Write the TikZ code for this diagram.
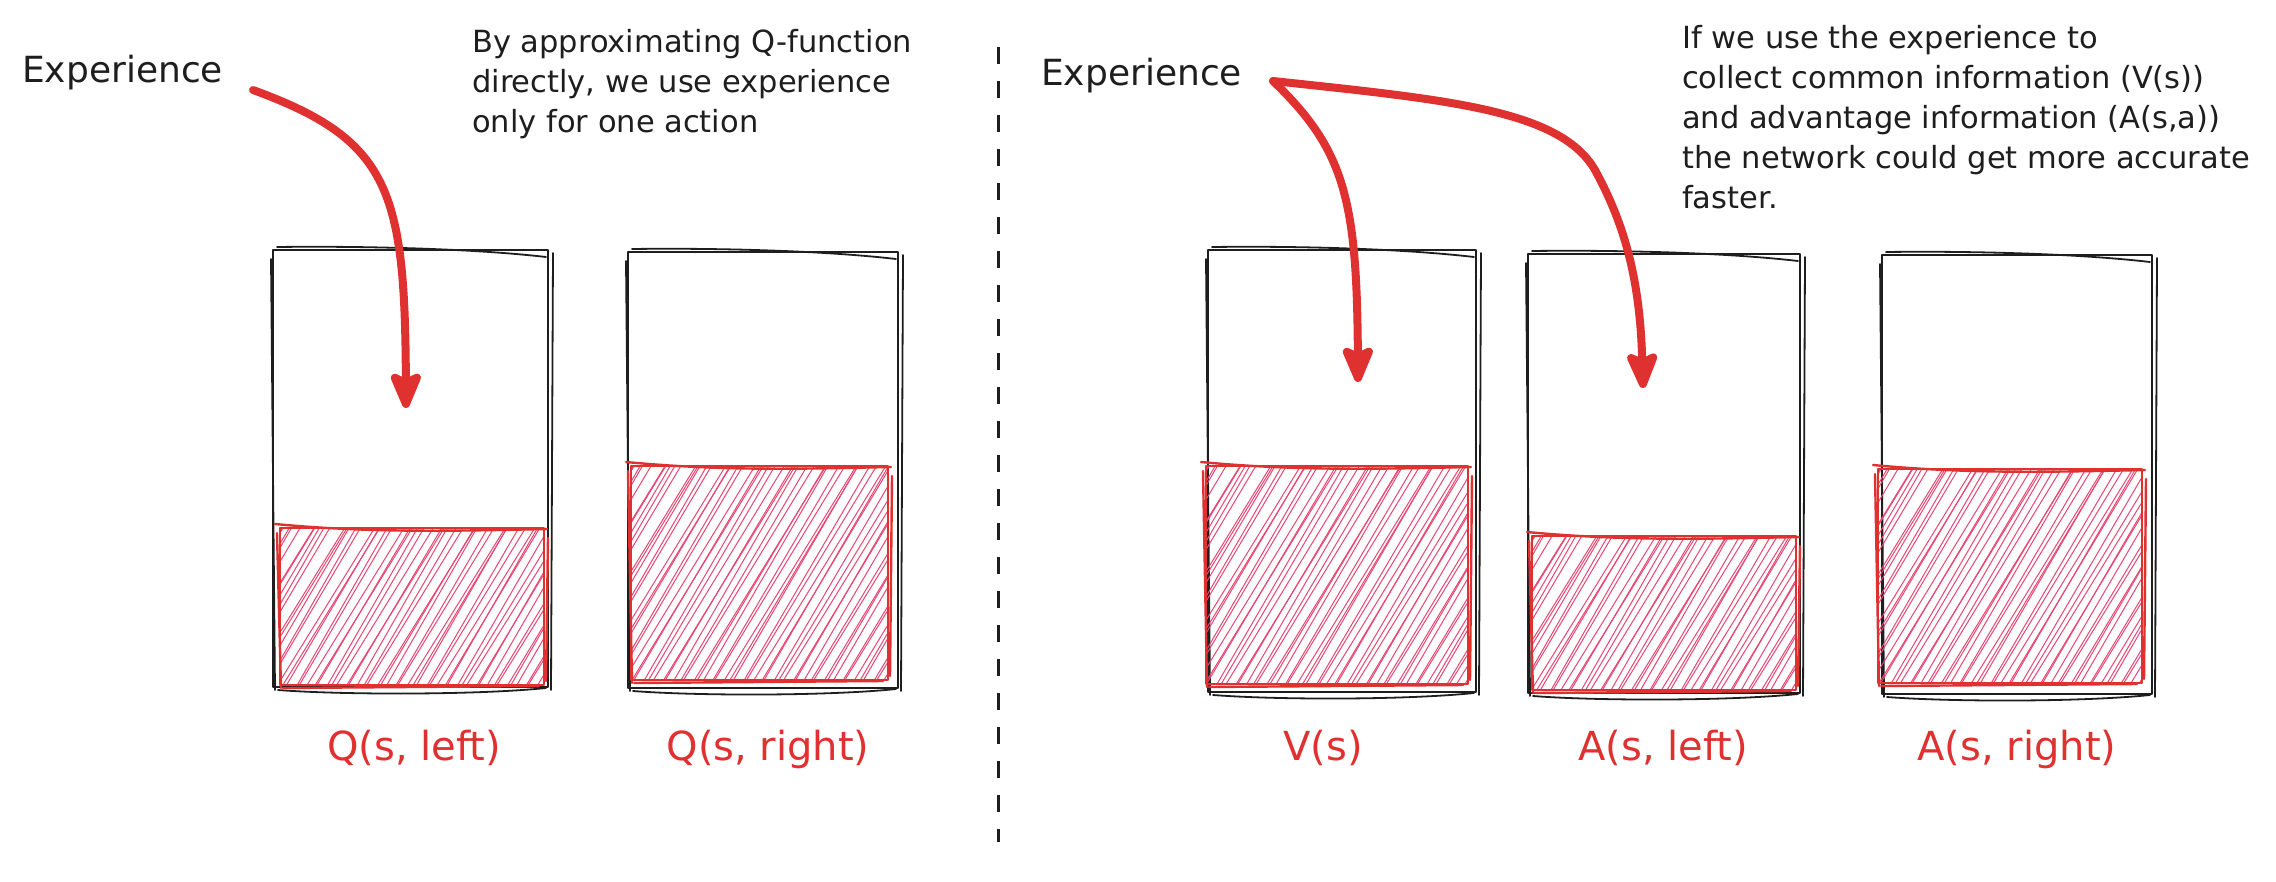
\documentclass[tikz,border=0pt]{standalone}
\usepackage{fontspec}
\setmainfont{DejaVu Sans}
\usetikzlibrary{arrows.meta}
\definecolor{exred}{RGB}{224,49,49}
\definecolor{exhatch}{RGB}{232,70,115}
\definecolor{exink}{RGB}{30,30,30}
\tikzset{
  boxline/.style={draw=exink,line width=1.8pt,line cap=round,line join=round},
  fillline/.style={draw=exred,line width=2.4pt,line cap=round,line join=round},
  hatchline/.style={draw=exhatch,line width=1.0pt},
  arr/.style={draw=exred,line width=8pt,line cap=round,
    -{Stealth[length=44pt,width=36pt,inset=8pt,round]}},
  txt/.style={text=exink,inner sep=0pt},
  exptxt/.style={txt,font=\fontsize{36}{43}\selectfont,anchor=base west},
  notetxt/.style={txt,font=\fontsize{30.5}{40}\selectfont,align=left,anchor=north west},
  lbl/.style={text=exred,font=\fontsize{40}{48}\selectfont,inner sep=0pt,anchor=base},
  divider/.style={draw=exink,line width=3pt,dash pattern=on 17pt off 17pt}
}
% sketchy container: x1 y1 x2 y2 (y grows downwards)
\newcommand\skbox[4]{%
  \draw[boxline] (#1,#2) rectangle (#3,#4);
  \draw[boxline] (#1+4,#2-3) .. controls (#1+80,#2-4) and (#3-80,#2-2) .. (#3-2,#2+7);
  \draw[boxline] (#1-2,#2+9) -- (#1+2,#4+3);
  \draw[boxline] (#3+5,#2+3) -- (#3+3,#4+3);
  \draw[boxline] (#1+5,#4+3) .. controls (#1+70,#4+8) and (#3-70,#4+8) .. (#3-2,#4+1);
}
% hatched red fill: x1 y1 x2 y2
\newcommand\skfill[4]{%
  \begin{scope}
    \clip (#1,#2) rectangle (#3,#4);
    \pgfmathsetmacro\skh{#4-#2}
    \pgfmathsetmacro\skxa{#1-0.6*\skh-10}
    \pgfmathtruncatemacro\skn{(#3-#1+0.6*\skh+20)/6.2+1}
    \foreach \k in {0,...,\skn}{
      \draw[hatchline] ({\skxa+6.2*\k+2.5*sin(137*\k)},#4+2)
        -- ++({0.6*\skh+2+4*sin(71*\k)},{-\skh-4});
    }
  \end{scope}
  \draw[fillline] (#1,#2) rectangle (#3,#4);
  \draw[fillline] (#1-5,#2-4) .. controls (#1+90,#2+5) and (#3-90,#2+3) .. (#3+3,#2+1);
  \draw[fillline] (#1+3,#4+3) -- (#3-5,#4+1);
  \draw[fillline] (#1-3,#2+5) -- (#1+1,#4+3);
  \draw[fillline] (#3+4,#2+10) -- (#3+2,#4-4);
}
\begin{document}
\begin{tikzpicture}[x=1pt,y=-1pt]
\useasboundingbox (0,0) rectangle (2276,881);
\fill[white] (0,0) rectangle (2276,881);

% divider
\coordinate (d1) at (998,47);
\coordinate (d2) at (998,842);
\draw[divider] (d1) -- (d2);

% ---------- left panel ----------
\skbox{273}{250}{548}{687}
\skbox{628}{252}{898}{688}
\skfill{280}{528}{544}{685}
\skfill{631}{466}{888}{680}

\node[exptxt] (exp1) at (22,82) {Experience};
\node[notetxt] (note1) at (472,29) {By approximating Q-function\\directly, we use experience\\only for one action};

\node[lbl] (qleft) at (414,760) {Q(s, left)};
\node[lbl] (qright) at (768,760) {Q(s, right)};

\coordinate (o1) at (253,90);
\coordinate (t1) at (406,408);
\draw[arr] (o1) .. controls (390,140) and (405,190) .. (t1);

% ---------- right panel ----------
\skbox{1208}{250}{1476}{692}
\skbox{1528}{254}{1800}{693}
\skbox{1882}{255}{2152}{694}
\skfill{1206}{466}{1468}{684}
\skfill{1532}{536}{1796}{690}
\skfill{1878}{469}{2142}{683}

\node[exptxt] (exp2) at (1041,85) {Experience};
\node[notetxt] (note2) at (1682,25) {If we use the experience to\\collect common information (V(s))\\and advantage information (A(s,a))\\the network could get more accurate\\faster.};

\node[lbl] (vs) at (1323,760) {V(s)};
\node[lbl] (aleft) at (1663,760) {A(s, left)};
\node[lbl] (aright) at (2017,760) {A(s, right)};

\coordinate (o2) at (1273,81);
\coordinate (t2) at (1358,382);
\coordinate (m3) at (1595,170);
\coordinate (t3) at (1643,388);
\draw[arr] (o2) .. controls (1345,150) and (1357,200) .. (t2);
\draw[arr] (o2) .. controls (1450,100) and (1560,110) .. (m3)
                .. controls (1625,225) and (1640,280) .. (t3);
\end{tikzpicture}
\end{document}
